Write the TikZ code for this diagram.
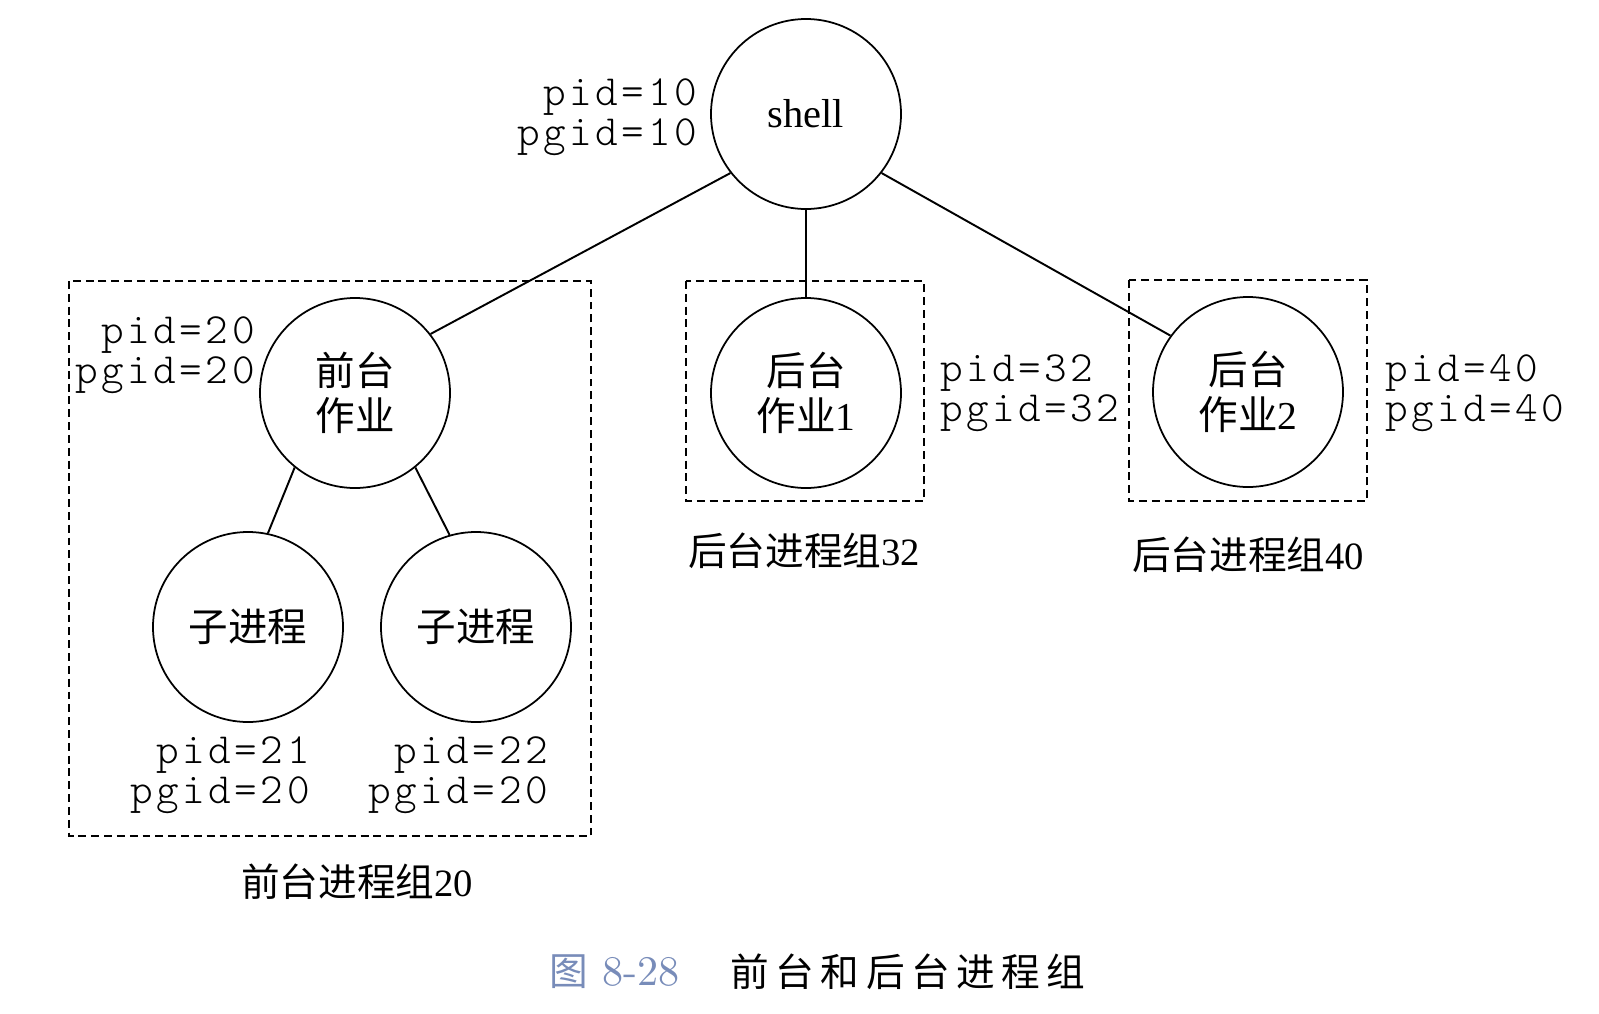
\documentclass[tikz,border=0pt]{standalone}
\usepackage{fontspec}
\setmainfont{Liberation Serif}
\newfontfamily\cjk{Noto Sans CJK SC}
\newfontfamily\cjkcap[LetterSpace=17]{Noto Sans CJK SC}
\newfontfamily\idfont[LetterSpace=8]{lmmonolt10-regular.otf}
\newfontfamily\capfont{lmroman10-regular.otf}
\usetikzlibrary{positioning}
\definecolor{CapB}{RGB}{120,140,185}

\begin{document}
\begin{tikzpicture}[
  proc/.style={draw, circle, line width=1pt, minimum size=3.8cm, inner sep=0pt,
               align=center, font=\fontsize{22.5}{26}\selectfont\cjk},
  grp/.style={draw, line width=1.1pt, dash pattern=on 4.5pt off 2.8pt},
  ids/.style={font=\fontsize{24.5}{22.5}\selectfont\idfont, inner sep=0pt},
  grplbl/.style={font=\fontsize{22}{26}\selectfont, inner sep=0pt},
  link/.style={line width=1.1pt}
]
\useasboundingbox (0,0) rectangle (31.98,-20.26);

\node[proc, font=\fontsize{23}{26}\selectfont\rmfamily] (shell) at (16.12,-2.28) {shell};
\node[proc] (fgjob)  at (7.10,-7.86)  {前台\\作业};
\node[proc] (child1) at (4.96,-12.54) {子进程};
\node[proc] (child2) at (9.52,-12.54) {子进程};
\node[proc] (bgjob1) at (16.12,-7.86) {后台\\作业{\rmfamily 1}};
\node[proc] (bgjob2) at (24.96,-7.84) {后台\\作业{\rmfamily 2}};

\draw[link] (shell.218) -- (fgjob.38);
\draw[link] (shell.south) -- (bgjob1.north);
\draw[link] (shell.322) -- (bgjob2.144);
\draw[link] (fgjob.231) -- (child1.78);
\draw[link] (fgjob.309) -- (child2.106);

\draw[grp] (1.38,-5.62) rectangle (11.82,-16.72);
\draw[grp] (13.72,-5.62) rectangle (18.48,-10.02);
\draw[grp] (22.58,-5.60) rectangle (27.34,-10.02);

\node[ids, anchor=east, align=right] (id10) at (13.94,-2.34) {pid=10\\pgid=10};
\node[ids, anchor=east, align=right] (id20) at (5.10,-7.10)  {pid=20\\pgid=20};
\node[ids, anchor=east, align=right] (id21) at (6.20,-15.50) {pid=21\\pgid=20};
\node[ids, anchor=east, align=right] (id22) at (10.96,-15.50) {pid=22\\pgid=20};
\node[ids, anchor=west, align=left]  (id32) at (18.80,-7.86) {pid=32\\pgid=32};
\node[ids, anchor=west, align=left]  (id40) at (27.70,-7.86) {pid=40\\pgid=40};

\node[grplbl] (fggrp)  at (7.14,-17.64) {{\cjk 前台进程组}20};
\node[grplbl] (bggrp1) at (16.08,-11.02) {{\cjk 后台进程组}32};
\node[grplbl] (bggrp2) at (24.96,-11.10) {{\cjk 后台进程组}40};

\node[grplbl, anchor=west, text=CapB] (capnum) at (10.98,-19.44)
  {{\cjk 图}\hspace{0.28cm}{\capfont\fontsize{24}{26}\selectfont 8-28}};
\node[grplbl, anchor=west] (captitle) at (14.60,-19.44) {\cjkcap 前台和后台进程组};
\end{tikzpicture}
\end{document}
